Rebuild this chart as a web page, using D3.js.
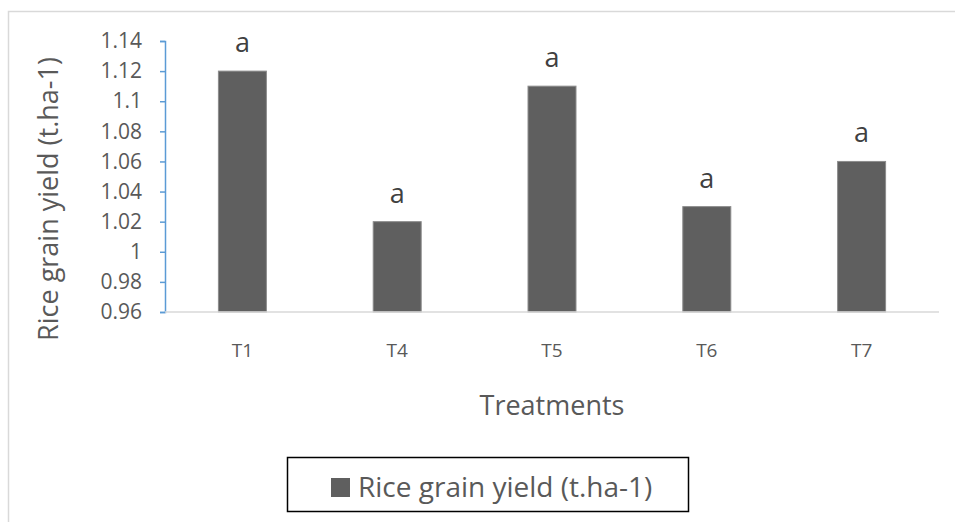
<!DOCTYPE html>
<html>
<head>
<meta charset="utf-8">
<script src="https://cdn.jsdelivr.net/npm/d3@7"></script>
<style>
  body { margin: 0; background: #fff; }
  text { font-family: "Open Sans", sans-serif; }
</style>
</head>
<body>
<svg id="chart" width="955" height="522"></svg>
<script>
const treatments = ["T1", "T4", "T5", "T6", "T7"];
const yieldValues = [1.12, 1.02, 1.11, 1.03, 1.06];
const letters = ["a", "a", "a", "a", "a"];
const yTicks = [0.96, 0.98, 1, 1.02, 1.04, 1.06, 1.08, 1.1, 1.12, 1.14];
const seriesName = "Rice grain yield (t.ha-1)";

const svg = d3.select("#chart");
const plotL = 165, plotR = 939, plotT = 41, plotB = 312;

// chart frame
svg.append("path")
  .attr("d", "M8.5,522 V11.5 H955")
  .attr("fill", "none")
  .attr("stroke", "#d9d9d9")
  .attr("stroke-width", 1.5);

const x = d3.scaleBand().domain(treatments).range([plotL, plotR]).paddingInner(0.69).paddingOuter(0.345);
const y = d3.scaleLinear().domain([0.96, 1.14]).range([plotB, plotT]);

// y axis
const yAxis = svg.append("g")
  .attr("transform", `translate(${plotL},0)`)
  .call(d3.axisLeft(y).tickValues(yTicks).tickSize(5).tickFormat(d => String(+d.toFixed(2))));
yAxis.select(".domain").attr("stroke", "#5b9bd5").attr("stroke-width", 1.5);
yAxis.selectAll(".tick line").attr("stroke", "#5b9bd5").attr("stroke-width", 1.5);
yAxis.selectAll(".tick text")
  .attr("x", -23)
  .attr("fill", "#595959")
  .attr("font-size", "21px")
  .style("font-family", "'Open Sans', sans-serif");

// bars
svg.append("g")
  .selectAll("rect")
  .data(treatments)
  .join("rect")
  .attr("x", d => x(d))
  .attr("y", (d, i) => y(yieldValues[i]))
  .attr("width", x.bandwidth())
  .attr("height", (d, i) => plotB - y(yieldValues[i]))
  .attr("fill", "#5f5f5f")
  .attr("stroke", "#8c8c8c")
  .attr("stroke-width", 1);

// x axis line
svg.append("line")
  .attr("x1", plotL).attr("x2", plotR)
  .attr("y1", plotB).attr("y2", plotB)
  .attr("stroke", "#d9d9d9")
  .attr("stroke-width", 1.5);

// x labels
svg.append("g")
  .selectAll("text")
  .data(treatments)
  .join("text")
  .attr("x", d => x(d) + x.bandwidth() / 2)
  .attr("y", 357)
  .attr("text-anchor", "middle")
  .attr("fill", "#595959")
  .attr("font-size", "19px")
  .text(d => d);

// significance letters
svg.append("g")
  .selectAll("text")
  .data(treatments)
  .join("text")
  .attr("x", d => x(d) + x.bandwidth() / 2)
  .attr("y", (d, i) => y(yieldValues[i]) - 19)
  .attr("text-anchor", "middle")
  .attr("fill", "#404040")
  .attr("font-size", "27px")
  .text((d, i) => letters[i]);

// axis titles
svg.append("text")
  .attr("x", (plotL + plotR) / 2)
  .attr("y", 415)
  .attr("text-anchor", "middle")
  .attr("fill", "#595959")
  .attr("font-size", "27px")
  .text("Treatments");

svg.append("text")
  .attr("transform", "translate(58,199) rotate(-90)")
  .attr("text-anchor", "middle")
  .attr("fill", "#595959")
  .attr("font-size", "27px")
  .text(seriesName);

// legend
const lg = svg.append("g");
lg.append("rect")
  .attr("x", 287.5).attr("y", 457.5)
  .attr("width", 401).attr("height", 54)
  .attr("fill", "#fff")
  .attr("stroke", "#000")
  .attr("stroke-width", 1.5);
lg.append("rect")
  .attr("x", 331).attr("y", 478)
  .attr("width", 19).attr("height", 19)
  .attr("fill", "#5f5f5f");
lg.append("text")
  .attr("x", 358).attr("y", 497)
  .attr("fill", "#595959")
  .attr("font-size", "28px")
  .text(seriesName);
</script>
</body>
</html>
